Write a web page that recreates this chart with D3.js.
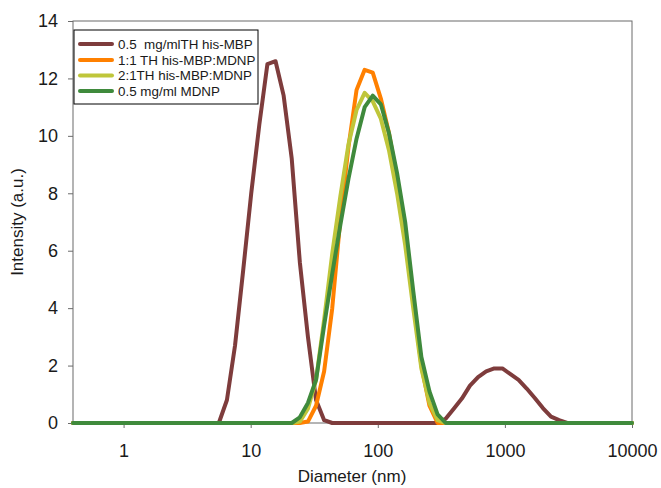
<!DOCTYPE html>
<html>
<head>
<meta charset="utf-8">
<script src="https://cdn.jsdelivr.net/npm/d3@7"></script>
<style>
  html, body { margin: 0; padding: 0; background: #fff; }
  svg { display: block; font-family: "Liberation Sans", Arial, sans-serif; }
</style>
</head>
<body>
<svg id="chart" width="661" height="488"></svg>
<script>
// Diameter bins (nm)
const diameters = [0.4, 0.4632, 0.5365, 0.6213, 0.7195, 0.8332, 0.9649, 1.117, 1.294, 1.499,
  1.736, 2.010, 2.328, 2.696, 3.122, 3.615, 4.187, 4.849, 5.615, 6.503,
  7.531, 8.721, 10.10, 11.70, 13.54, 15.69, 18.17, 21.04, 24.36, 28.21,
  32.67, 37.84, 43.82, 50.75, 58.77, 68.06, 78.82, 91.28, 105.7, 122.4,
  141.8, 164.2, 190.1, 220.2, 255.0, 295.3, 342.0, 396.1, 458.7, 531.2,
  615.1, 712.4, 825.0, 955.4, 1106, 1281, 1484, 1718, 1990, 2305,
  2669, 3091, 3580, 4145, 4801, 5560, 6439, 7456, 8635, 10000];

const seriesNames = ["0.5  mg/mlTH his-MBP", "1:1 TH his-MBP:MDNP", "2:1TH his-MBP:MDNP", "0.5 mg/ml MDNP"];

const mbp = [0,0,0,0,0,0,0,0,0,0, 0,0,0,0,0,0,0,0,0,0.8,
  2.7,5.3,8.0,10.4,12.5,12.6,11.4,9.2,5.6,3.0,
  0.8,0.1,0,0,0,0,0,0,0,0, 0,0,0,0,0,0,0.15,0.5,0.85,1.3,
  1.6,1.8,1.9,1.9,1.7,1.5,1.2,0.87,0.52,0.22, 0.1,0,0,0,0,0,0,0,0,0];

const ratio11 = [0,0,0,0,0,0,0,0,0,0, 0,0,0,0,0,0,0,0,0,0,
  0,0,0,0,0,0,0,0,0,0.05,
  0.6,1.8,4.0,7.1,9.6,11.6,12.3,12.2,11.3,10.1,
  8.5,6.6,4.3,2.0,0.6,0,0,0,0,0, 0,0,0,0,0,0,0,0,0,0, 0,0,0,0,0,0,0,0,0,0];

const ratio21 = [0,0,0,0,0,0,0,0,0,0, 0,0,0,0,0,0,0,0,0,0,
  0,0,0,0,0,0,0,0,0.05,0.5,
  1.5,3.6,5.9,7.9,9.7,10.9,11.5,11.2,10.6,9.5,
  8.0,6.2,4.0,1.9,0.7,0.1,0,0,0,0, 0,0,0,0,0,0,0,0,0,0, 0,0,0,0,0,0,0,0,0,0];

const mdnp = [0,0,0,0,0,0,0,0,0,0, 0,0,0,0,0,0,0,0,0,0,
  0,0,0,0,0,0,0,0,0.2,0.7,
  1.5,3.4,5.2,6.9,8.5,9.9,11.0,11.4,11.1,10.1,
  8.7,7.0,4.6,2.3,1.1,0.3,0,0,0,0, 0,0,0,0,0,0,0,0,0,0, 0,0,0,0,0,0,0,0,0,0];

const seriesColors = ["#7e3c3c", "#ff8000", "#bfc63a", "#3f8a3c"];
const xTicks = [1, 10, 100, 1000, 10000];
const yTicks = [0, 2, 4, 6, 8, 10, 12, 14];

const svg = d3.select("#chart");
const pL = 73, pR = 632, pT = 21, pB = 423;

const x = d3.scaleLog().domain([0.4, 10000]).range([pL, pR]);
const y = d3.scaleLinear().domain([0, 14]).range([pB, pT]);

// plot box
svg.append("rect")
  .attr("x", pL).attr("y", pT)
  .attr("width", pR - pL).attr("height", pB - pT)
  .attr("fill", "none").attr("stroke", "#6b6b6b").attr("stroke-width", 1);

// axes
const yAxis = svg.append("g")
  .attr("transform", `translate(${pL},0)`)
  .call(d3.axisLeft(y).tickValues(yTicks).tickFormat(d3.format("d")).tickSize(5).tickSizeOuter(0).tickPadding(10));
yAxis.select(".domain").remove();
yAxis.selectAll("line").attr("stroke", "#6b6b6b");
yAxis.selectAll("text").attr("font-size", 18).attr("fill", "#1a1a1a")
  .attr("font-family", "Liberation Sans, Arial, sans-serif");

const xAxis = svg.append("g")
  .attr("transform", `translate(0,${pB})`)
  .call(d3.axisBottom(x).tickValues(xTicks).tickFormat(d3.format("d")).tickSize(5).tickSizeOuter(0).tickPadding(16));
xAxis.select(".domain").remove();
xAxis.selectAll("line").attr("stroke", "#6b6b6b");
xAxis.selectAll("text").attr("font-size", 18).attr("fill", "#1a1a1a")
  .attr("font-family", "Liberation Sans, Arial, sans-serif");

// axis titles
svg.append("text")
  .attr("x", 352).attr("y", 482)
  .attr("text-anchor", "middle")
  .attr("font-size", 17).attr("fill", "#1a1a1a")
  .text("Diameter (nm)");

svg.append("text")
  .attr("transform", "translate(23,222) rotate(-90)")
  .attr("text-anchor", "middle")
  .attr("font-size", 17).attr("fill", "#1a1a1a")
  .text("Intensity (a.u.)");

// series lines
const allSeries = [mbp, ratio11, ratio21, mdnp];
const line = d3.line()
  .x((d, i) => x(diameters[i]))
  .y(d => y(d));

allSeries.forEach((s, k) => {
  svg.append("path")
    .datum(s)
    .attr("d", line)
    .attr("fill", "none")
    .attr("stroke", seriesColors[k])
    .attr("stroke-width", 4)
    .attr("stroke-linejoin", "round")
    .attr("stroke-linecap", "round");
});

// legend
const lg = svg.append("g");
lg.append("rect")
  .attr("x", 74).attr("y", 30).attr("width", 184).attr("height", 74)
  .attr("fill", "#fff").attr("stroke", "#000").attr("stroke-width", 1);
const rowY = [44, 60, 75.5, 91];
seriesNames.forEach((name, k) => {
  lg.append("line")
    .attr("x1", 80).attr("x2", 112)
    .attr("y1", rowY[k]).attr("y2", rowY[k])
    .attr("stroke", seriesColors[k]).attr("stroke-width", 4)
    .attr("stroke-linecap", "round");
  lg.append("text")
    .attr("x", 118).attr("y", rowY[k])
    .attr("dy", "0.35em")
    .attr("font-size", 13.4).attr("fill", "#1a1a1a")
    .attr("xml:space", "preserve")
    .style("white-space", "pre")
    .text(name);
});
</script>
</body>
</html>
